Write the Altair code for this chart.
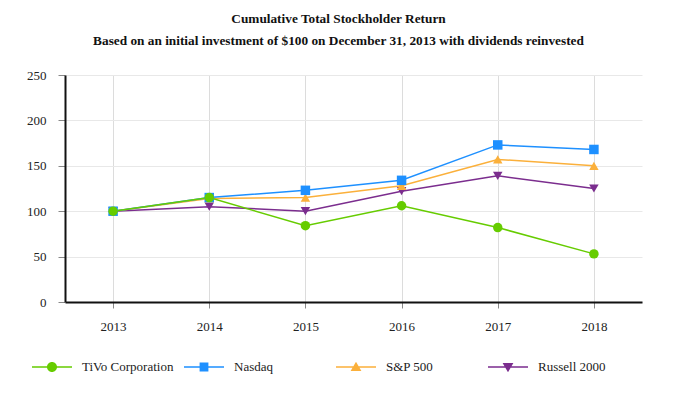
import altair as alt
import pandas as pd

years = ["2013", "2014", "2015", "2016", "2017", "2018"]
series_names = ["TiVo Corporation", "Nasdaq", "S&P 500", "Russell 2000"]
tivo = [100, 115, 84, 106, 82, 53]
nasdaq = [100, 115, 123, 134, 173, 168]
sp500 = [100, 114, 115, 128, 157, 150]
russell = [100, 105, 100, 122, 139, 125]
colors = ["#66cc00", "#1e90ff", "#fbb03b", "#7b2d8e"]
shapes = ["circle", "square", "triangle-up", "triangle-down"]

values = {"TiVo Corporation": tivo, "Nasdaq": nasdaq, "S&P 500": sp500, "Russell 2000": russell}
draw_order = ["Russell 2000", "S&P 500", "Nasdaq", "TiVo Corporation"]
rows = []
for i, s in enumerate(draw_order):
    for y, v in zip(years, values[s]):
        rows.append({"year": y, "series": s, "value": v, "order": i})
df = pd.DataFrame(rows)

# legend glyphs: thin filled bar (the line) + marker, in unit coordinates
bar = "M-1,-0.04L1,-0.04L1,0.04L-1,0.04Z"
legend_paths = [
    bar + "M-0.25,0A0.25,0.25,0,1,1,0.25,0A0.25,0.25,0,1,1,-0.25,0Z",
    bar + "M-0.22,-0.22L0.22,-0.22L0.22,0.22L-0.22,0.22Z",
    bar + "M0,-0.26L0.27,0.2L-0.27,0.2Z",
    bar + "M0,0.26L-0.27,-0.2L0.27,-0.2Z",
]

color_scale = alt.Scale(domain=series_names, range=colors)
serif = "Liberation Serif"

x_enc = alt.X(
    "year:O",
    scale=alt.Scale(type="point", padding=0.5),
    axis=alt.Axis(
        title=None, labelAngle=0, grid=True, gridColor="#dcdcdc",
        domainColor="#111", domainWidth=2, tickColor="#888", tickSize=6,
        labelPadding=12, labelFont=serif, labelFontSize=13, labelColor="#222",
    ),
)
y_enc = alt.Y(
    "value:Q",
    scale=alt.Scale(domain=[0, 250], nice=False),
    axis=alt.Axis(
        title=None, values=[0, 50, 100, 150, 200, 250], grid=True, gridColor="#e8e8e8",
        domainColor="#111", domainWidth=2, tickColor="#888", tickSize=7,
        labelPadding=12, labelFont=serif, labelFontSize=13, labelColor="#222",
    ),
)

legend = alt.Legend(
    title=None, orient="none", legendX=-33, legendY=272, direction="horizontal",
    columns=4, gridAlign="all", columnPadding=10, symbolSize=1600, labelOffset=10,
    labelFont=serif, labelFontSize=13, labelColor="#222", padding=0,
    symbolOpacity=1, symbolStrokeWidth=0,
)

base = alt.Chart(df)
legend_layer = base.transform_filter("false").mark_point(filled=True, opacity=1).encode(
    x=x_enc, y=y_enc,
    color=alt.Color("series:N", scale=color_scale, legend=legend),
    shape=alt.Shape("series:N", scale=alt.Scale(domain=series_names, range=legend_paths), legend=legend),
)
lines = base.mark_line(strokeWidth=1.5).encode(
    x=x_enc, y=y_enc,
    color=alt.Color("series:N", scale=color_scale, legend=None),
    detail="order:O",
)
point_layers = []
for s in draw_order:
    shp = shapes[series_names.index(s)]
    point_layers.append(
        base.transform_filter(alt.datum.series == s)
        .mark_point(filled=True, size=90, opacity=1, shape=shp)
        .encode(x=x_enc, y=y_enc,
                color=alt.Color("series:N", scale=color_scale, legend=None))
    )

chart = alt.layer(legend_layer, lines, *point_layers).properties(
    width=577, height=227,
    autosize=alt.AutoSizeParams(type="none"),
    padding={"left": 57, "top": 67, "right": 26, "bottom": 94},
    title=alt.Title(
        ["Cumulative Total Stockholder Return",
         "Based on an initial investment of $100 on December 31, 2013 with dividends reinvested"],
        font=serif, fontSize=13.3, fontWeight="bold", color="#111",
        anchor="middle", lineHeight=22, offset=22, dx=-15,
    ),
).configure_view(stroke=None)

chart.save("out.html", embed_options={"renderer": "svg", "actions": False})
